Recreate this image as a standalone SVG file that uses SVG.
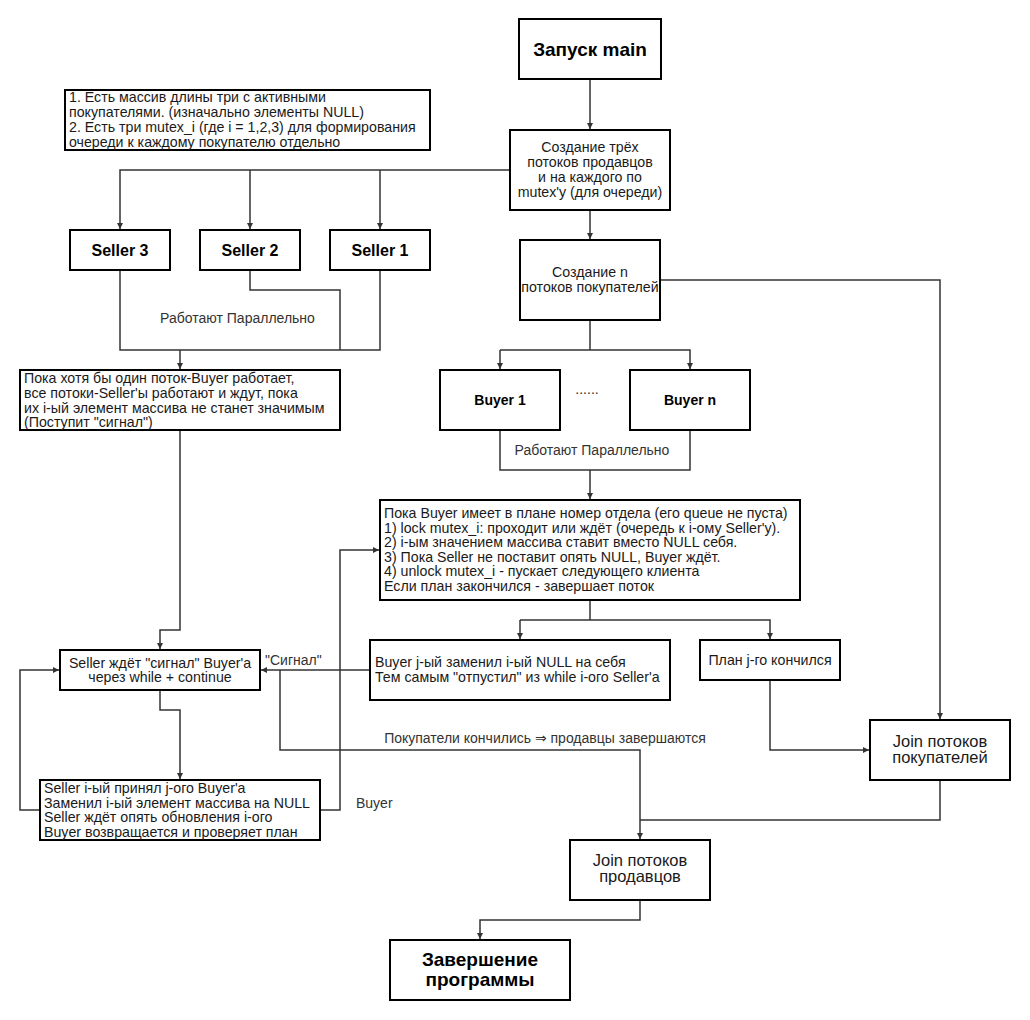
<svg xmlns="http://www.w3.org/2000/svg" width="1030" height="1020" viewBox="0 0 1030 1020">
<style>
  .box { fill: #ffffff; stroke: #000000; stroke-width: 2; }
  .t { font-family: "Liberation Sans", Arial, sans-serif; font-size: 14.2px; fill: #1a1a1a; }
  .c { text-anchor: middle; }
  .b16 { font-family: "Liberation Sans", Arial, sans-serif; font-size: 16px; font-weight: bold; fill: #000; text-anchor: middle; }
  .b14 { font-family: "Liberation Sans", Arial, sans-serif; font-size: 14px; font-weight: bold; fill: #000; text-anchor: middle; }
  .b19 { font-family: "Liberation Sans", Arial, sans-serif; font-size: 19px; font-weight: bold; fill: #000; text-anchor: middle; }
  .j { font-family: "Liberation Sans", Arial, sans-serif; font-size: 16.5px; fill: #1a1a1a; text-anchor: middle; }
  .lbl { font-family: "Liberation Sans", "DejaVu Sans", Arial, sans-serif; font-size: 14px; fill: #333; }
  .ln { fill: none; stroke: #333333; stroke-width: 1.5; }
  .ar { marker-end: url(#arr); }
</style>
<defs>
  <marker id="arr" markerUnits="userSpaceOnUse" markerWidth="8" markerHeight="8" refX="6" refY="3" orient="auto">
    <path d="M0,0 L6,3 L0,6 z" fill="#333333"/>
  </marker>
</defs>
<rect width="1030" height="1020" fill="#ffffff"/>

<g id="connectors">
  <path class="ln ar" d="M590,79 V129"/>
  <path class="ln ar" d="M510,170 H120 V229"/>
  <path class="ln ar" d="M250,170 V229"/>
  <path class="ln ar" d="M380,170 V229"/>
  <path class="ln ar" d="M590,210 V239"/>
  <path class="ln" d="M120,270 V350 H380 V270"/>
  <path class="ln" d="M250,270 V290 H340 V350"/>
  <path class="ln ar" d="M180,350 V369"/>
  <path class="ln ar" d="M180,430 V630 H160 V649"/>
  <path class="ln ar" d="M160,690 V710 H180 V779"/>
  <path class="ln ar" d="M40,810 H20 V670 H59"/>
  <path class="ln ar" d="M320,810 H340 V550 H379"/>
  <path class="ln" d="M590,320 V350"/>
  <path class="ln ar" d="M500,350 H690 V369"/>
  <path class="ln ar" d="M500,350 V369"/>
  <path class="ln" d="M500,430 V470 H690 V430"/>
  <path class="ln ar" d="M590,470 V499"/>
  <path class="ln ar" d="M660,280 H940 V719"/>
  <path class="ln" d="M590,600 V620"/>
  <path class="ln ar" d="M520,620 H770 V639"/>
  <path class="ln ar" d="M520,620 V639"/>
  <path class="ln ar" d="M370,670 H261"/>
  <path class="ln ar" d="M280,670 V750 H640 V839"/>
  <path class="ln ar" d="M770,680 V750 H869"/>
  <path class="ln" d="M940,780 V820 H640"/>
  <path class="ln ar" d="M640,900 V920 H480 V939"/>
  <text class="lbl" x="237.5" y="323" text-anchor="middle">Работают Параллельно</text>
  <text class="lbl" x="592" y="455" text-anchor="middle">Работают Параллельно</text>
  <text class="lbl" x="587" y="394" text-anchor="middle">......</text>
  <text class="lbl" x="265" y="665">"Сигнал"</text>
  <text class="lbl" x="545" y="743" text-anchor="middle">Покупатели кончились ⇒ продавцы завершаются</text>
  <text class="lbl" x="356" y="808">Buyer</text>
  <text class="lbl" x="55" y="795">Seller</text>
</g>

<g id="start">
  <rect class="box" x="519" y="19" width="142" height="60"/>
  <text class="b19" x="590" y="56">Запуск main</text>
</g>

<g id="note">
  <rect class="box" x="65" y="90" width="365" height="60"/>
  <text class="t" x="69" y="102">1. Есть массив длины три с активными</text>
  <text class="t" x="69" y="117">покупателями. (изначально элементы NULL)</text>
  <text class="t" x="69" y="132">2. Есть три mutex_i (где i = 1,2,3) для формирования</text>
  <text class="t" x="69" y="147">очереди к каждому покупателю отдельно</text>
</g>

<g id="create-sellers">
  <rect class="box" x="510" y="130" width="160" height="80"/>
  <text class="t c" x="590" y="152">Создание трёх</text>
  <text class="t c" x="590" y="167">потоков продавцов</text>
  <text class="t c" x="590" y="182">и на каждого по</text>
  <text class="t c" x="590" y="197">mutex'у (для очереди)</text>
</g>

<g id="seller3">
  <rect class="box" x="70" y="230" width="100" height="40"/>
  <text class="b16" x="120" y="256">Seller 3</text>
</g>
<g id="seller2">
  <rect class="box" x="200" y="230" width="100" height="40"/>
  <text class="b16" x="250" y="256">Seller 2</text>
</g>
<g id="seller1">
  <rect class="box" x="330" y="230" width="100" height="40"/>
  <text class="b16" x="380" y="256">Seller 1</text>
</g>

<g id="create-buyers">
  <rect class="box" x="520" y="240" width="140" height="80"/>
  <text class="t c" x="590" y="277">Создание n</text>
  <text class="t c" x="590" y="292">потоков покупателей</text>
</g>

<g id="buyer1">
  <rect class="box" x="440" y="370" width="120" height="60"/>
  <text class="b14" x="500" y="405">Buyer 1</text>
</g>
<g id="buyern">
  <rect class="box" x="630" y="370" width="120" height="60"/>
  <text class="b14" x="690" y="405">Buyer n</text>
</g>

<g id="sellers-wait-info">
  <rect class="box" x="20" y="370" width="320" height="60"/>
  <text class="t" x="24" y="383">Пока хотя бы один поток-Buyer работает,</text>
  <text class="t" x="24" y="398">все потоки-Seller'ы работают и ждут, пока</text>
  <text class="t" x="24" y="413">их i-ый элемент массива не станет значимым</text>
  <text class="t" x="24" y="427">(Поступит "сигнал")</text>
</g>

<g id="buyer-loop">
  <rect class="box" x="380" y="500" width="420" height="100"/>
  <text class="t" x="384" y="518">Пока Buyer имеет в плане номер отдела (его queue не пуста)</text>
  <text class="t" x="384" y="532.5">1) lock mutex_i: проходит или ждёт (очередь к i-ому Seller'у).</text>
  <text class="t" x="384" y="547">2) i-ым значением массива ставит вместо NULL себя.</text>
  <text class="t" x="384" y="561.5">3) Пока Seller не поставит опять NULL, Buyer ждёт.</text>
  <text class="t" x="384" y="576">4) unlock mutex_i - пускает следующего клиента</text>
  <text class="t" x="384" y="590.5">Если план закончился - завершает поток</text>
</g>

<g id="seller-wait">
  <rect class="box" x="60" y="650" width="200" height="40"/>
  <text class="t c" x="160" y="667.5">Seller ждёт "сигнал" Buyer'a</text>
  <text class="t c" x="160" y="682">через while + continue</text>
</g>

<g id="buyer-replaced">
  <rect class="box" x="370" y="640" width="300" height="60"/>
  <text class="t" x="375" y="667">Buyer j-ый заменил i-ый NULL на себя</text>
  <text class="t" x="375" y="682">Тем самым "отпустил" из while i-ого Seller'a</text>
</g>

<g id="plan-ended">
  <rect class="box" x="700" y="640" width="140" height="40"/>
  <text class="t c" x="770" y="665">План j-го кончился</text>
</g>

<g id="seller-accepted">
  <rect class="box" x="40" y="780" width="280" height="60"/>
  <text class="t" x="44" y="793">Seller i-ый принял j-ого Buyer'a</text>
  <text class="t" x="44" y="807.5">Заменил i-ый элемент массива на NULL</text>
  <text class="t" x="44" y="822">Seller ждёт опять обновления i-ого</text>
  <text class="t" x="44" y="836.5">Buyer возвращается и проверяет план</text>
</g>

<g id="join-buyers">
  <rect class="box" x="870" y="720" width="140" height="60"/>
  <text class="j" x="940" y="747">Join потоков</text>
  <text class="j" x="940" y="763">покупателей</text>
</g>

<g id="join-sellers">
  <rect class="box" x="570" y="840" width="140" height="60"/>
  <text class="j" x="640" y="866">Join потоков</text>
  <text class="j" x="640" y="882">продавцов</text>
</g>

<g id="finish">
  <rect class="box" x="390" y="940" width="180" height="60"/>
  <text class="b19" x="480" y="966">Завершение</text>
  <text class="b19" x="480" y="986">программы</text>
</g>
</svg>
